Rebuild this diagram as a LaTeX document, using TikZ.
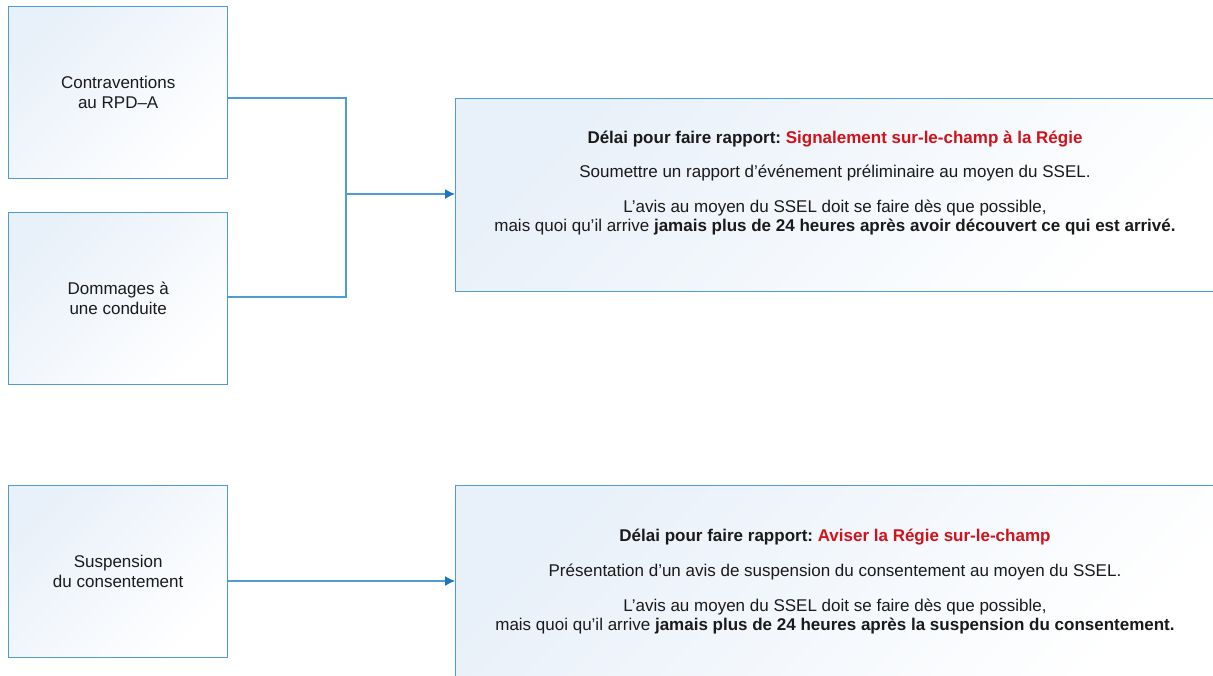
\documentclass[tikz,border=0pt]{standalone}
\usepackage{fontspec}
\setmainfont{Liberation Sans}
\usetikzlibrary{arrows.meta}
\definecolor{edgeblue}{HTML}{4F9BD6}
\definecolor{arrowblue}{HTML}{1B75BC}
\definecolor{shadeblue}{HTML}{E8F0F9}
\definecolor{alertred}{HTML}{D0121B}
\definecolor{txt}{HTML}{1A1A1A}
\tikzset{
  srcbox/.style={draw=edgeblue, line width=1.4pt, left color=shadeblue, middle color=white, right color=white, shading angle=45,
    minimum width=219pt, minimum height=172pt, inner sep=0pt, anchor=north west,
    text=txt, font=\fontsize{17}{20}\selectfont, align=center},
  infobox/.style={draw=edgeblue, line width=1.4pt, left color=shadeblue, middle color=white, right color=white, shading angle=45,
    minimum width=765pt, inner sep=0pt, anchor=north west},
  infotext/.style={text=txt, font=\fontsize{17}{19}\selectfont, align=center, inner sep=0pt},
  link/.style={draw=edgeblue, line width=1.4pt},
  arrow/.style={link, -{Latex[length=10pt,width=10pt,color=arrowblue]}},
}
\begin{document}
\frenchspacing
\begin{tikzpicture}[x=1pt,y=-1pt]
\useasboundingbox (0,0) rectangle (1213,675);
\clip (0,0) rectangle (1213,675);
\fill[white] (0,0) rectangle (1213,675);

\node[srcbox] (a) at (8,6) {Contraventions\\au RPD–A};
\node[srcbox] (b) at (8,212) {Dommages à\\une conduite};
\node[srcbox] (c) at (8,485) {Suspension\\du consentement};

\node[infobox, minimum height=193pt] (r1) at (455,98) {};
\node[infobox, minimum height=200pt] (r2) at (455,485) {};

\node[infotext] (t1) at (835,183.5) {%
\textbf{Délai pour faire rapport: \textcolor{alertred}{Signalement sur-le-champ à la Régie}}\\[15pt]
Soumettre un rapport d’événement préliminaire au moyen du SSEL.\\[16pt]
L’avis au moyen du SSEL doit se faire dès que possible,\\
mais quoi qu’il arrive \textbf{jamais plus de 24 heures après avoir découvert ce qui est arrivé.}};

\node[infotext] (t2) at (835,581.5) {%
\textbf{Délai pour faire rapport: \textcolor{alertred}{Aviser la Régie sur-le-champ}}\\[16pt]
Présentation d’un avis de suspension du consentement au moyen du SSEL.\\[16pt]
L’avis au moyen du SSEL doit se faire dès que possible,\\
mais quoi qu’il arrive \textbf{jamais plus de 24 heures après la suspension du consentement.}};

\coordinate (j) at (346,194);
\draw[link] (a.east |- 0,98) -| (j);
\draw[link] (b.east |- 0,297) -| (j);
\draw[arrow] (j) -- (r1.west |- j);
\draw[arrow] (c.east |- 0,581) -- (r2.west |- 0,581);
\end{tikzpicture}
\end{document}
